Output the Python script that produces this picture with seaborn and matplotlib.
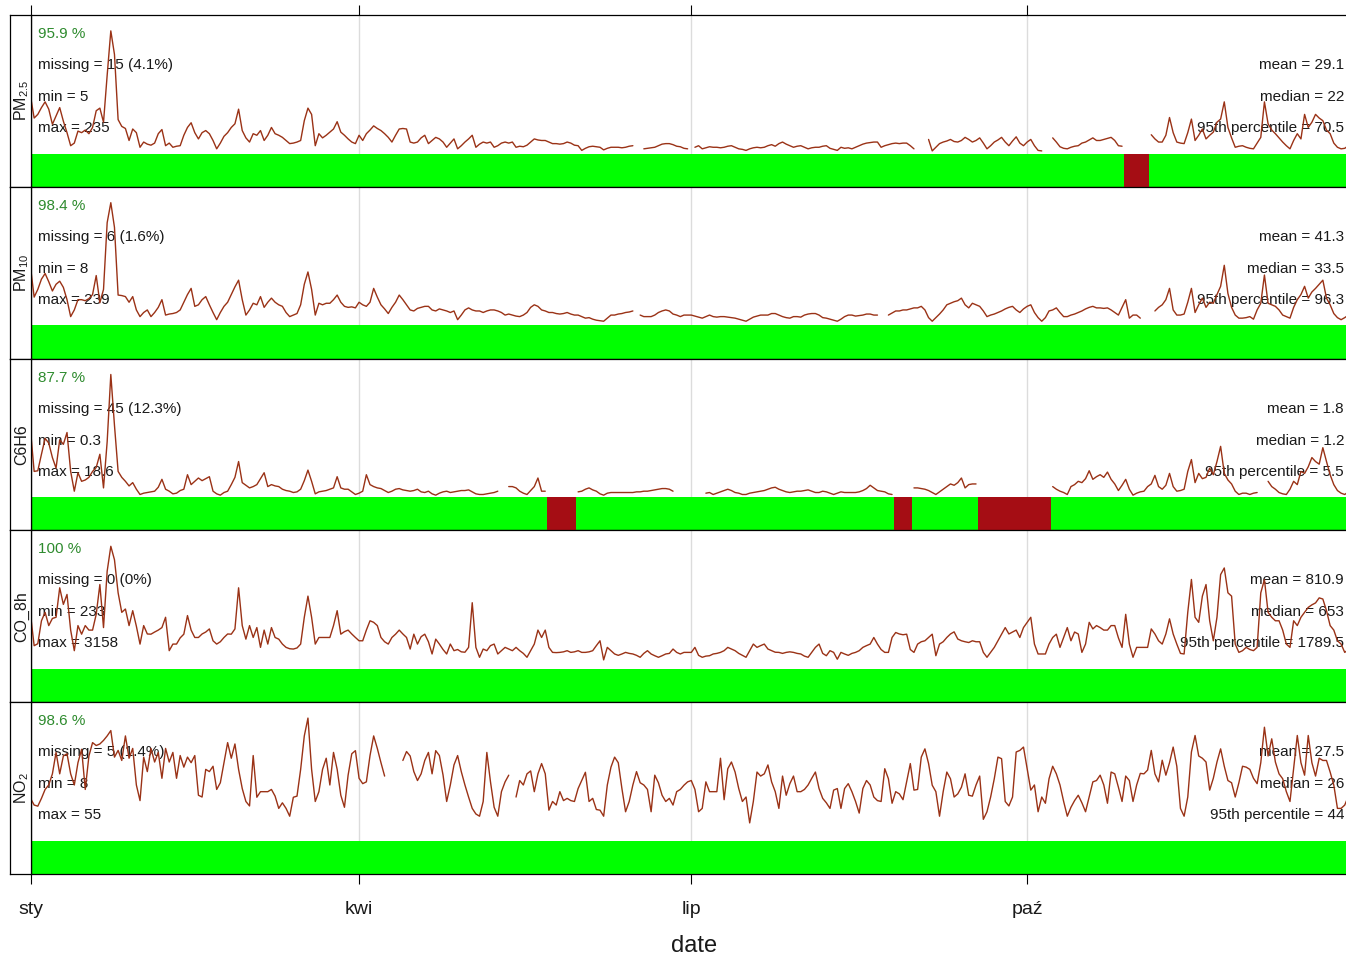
import numpy as np
import pandas as pd
import matplotlib
matplotlib.use("Agg")
import matplotlib.pyplot as plt
import matplotlib.dates as mdates
import seaborn as sns

nan = np.nan

# ---------------- data (daily means) ----------------
start_date = "2019-01-01"
end_date = "2020-01-01"

pm25 = [
    110, 68, 75, 88, 99, 85, 56, 72, 88, 62,
    40, 15, 20, 43, 40, 45, 38, 50, 82, 87,
    60, 150, 235, 190, 65, 52, 48, 25, 47, 40,
    12, 22, 18, 16, 20, 38, 46, 15, 20, 12,
    14, 15, 35, 50, 59, 40, 28, 40, 44, 38,
    25, 9, 20, 33, 40, 50, 57, 85, 44, 30,
    22, 38, 35, 44, 25, 35, 50, 38, 35, 31,
    25, 19, 20, 22, 25, 63, 87, 75, 15, 38,
    30, 35, 41, 47, 61, 41, 35, 28, 22, 19,
    35, 25, 38, 45, 53, 48, 44, 38, 31, 22,
    35, 47, 48, 47, 22, 20, 22, 30, 35, 19,
    25, 31, 28, 22, 12, 20, 28, 9, 15, 22,
    28, 35, 12, 18, 22, 20, 22, 12, 15, 20,
    22, 20, 22, 12, 14, 13, 16, 22, 28, 26,
    25, 25, 22, 19, 19, 18, 19, 22, 20, 16,
    15, 6, 10, 13, 14, 13, 12, 7, 10, 12,
    12, 12, 11, 12, 14, 15, nan, nan, 9, 10,
    11, 12, 15, 18, 19, 19, 17, 14, 13, 10,
    9, nan, 12, 15, 9, 11, 13, 12, 12, 11,
    12, 14, 15, 12, 9, 8, 6, 9, 11, 12,
    11, 12, 15, 17, 14, 19, 22, 18, 15, 12,
    14, 15, 12, 9, 11, 12, 12, 14, 15, 10,
    8, 6, 12, 10, 11, 9, 12, 15, 18, 20,
    21, 22, 22, 12, 15, 17, 19, 20, 19, 20,
    20, 15, 9, nan, nan, nan, 27, 5, 12, 19,
    22, 24, 27, 23, 22, 25, 31, 27, 22, 25,
    30, 20, 9, 15, 22, 26, 31, 22, 15, 24,
    32, 20, 15, 22, 27, 15, 6, 5, nan, nan,
    30, 22, 13, 10, 9, 12, 14, 15, 20, 22,
    26, 30, 25, 25, 27, 29, 31, 25, 15, 14,
    nan, nan, nan, nan, nan, nan, nan, 36, 28, 22,
    22, 35, 69, 40, 22, 20, 19, 40, 66, 25,
    35, 47, 28, 35, 41, 60, 66, 99, 50, 30,
    12, 14, 15, 12, 10, 9, 20, 31, 99, 57,
    45, 38, 30, 22, 15, 9, 25, 38, 28, 75,
    50, 60, 75, 68, 63, 45, 38, 20, 12, 9,
    10, 15, 20, 25, 22,
]

pm10 = [
    114, 55, 70, 90, 101, 85, 67, 80, 86, 74,
    50, 17, 30, 50, 50, 48, 52, 60, 97, 44,
    70, 200, 239, 191, 59, 58, 56, 45, 56, 30,
    17, 25, 30, 17, 25, 35, 50, 20, 22, 23,
    25, 30, 45, 60, 72, 37, 40, 50, 56, 40,
    25, 11, 25, 37, 45, 60, 75, 88, 50, 20,
    30, 43, 40, 56, 35, 45, 53, 45, 40, 37,
    25, 17, 20, 23, 40, 80, 104, 70, 20, 43,
    40, 43, 43, 50, 59, 45, 37, 35, 36, 34,
    45, 40, 37, 45, 72, 55, 40, 32, 23, 35,
    45, 59, 50, 40, 30, 28, 33, 35, 37, 37,
    30, 28, 32, 30, 28, 25, 28, 11, 20, 30,
    34, 30, 28, 28, 25, 28, 30, 30, 28, 25,
    20, 22, 20, 18, 17, 20, 25, 35, 40, 37,
    30, 28, 25, 25, 23, 22, 23, 25, 22, 20,
    20, 17, 14, 15, 12, 10, 9, 8, 14, 20,
    20, 22, 23, 25, 26, 28, nan, 20, 17, 17,
    17, 20, 25, 28, 30, 28, 22, 20, 17, 20,
    20, 20, 18, 16, 14, 17, 20, 17, 16, 17,
    17, 16, 15, 14, 12, 10, 8, 12, 16, 18,
    20, 20, 20, 23, 23, 20, 17, 15, 14, 17,
    17, 16, 20, 22, 23, 23, 20, 15, 14, 12,
    10, 8, 12, 17, 20, 20, 18, 19, 20, 22,
    22, 20, 20, nan, nan, 20, 24, 28, 28, 30,
    30, 32, 34, 34, 37, 30, 15, 8, 15, 22,
    30, 40, 43, 46, 48, 53, 40, 34, 43, 40,
    37, 28, 17, 20, 22, 25, 28, 32, 35, 37,
    30, 25, 32, 37, 40, 25, 15, 8, 15, 28,
    30, 34, 25, 17, 17, 20, 22, 25, 28, 32,
    35, 37, 34, 34, 33, 34, 30, 25, 20, 35,
    50, 14, 20, 20, 14, nan, nan, nan, 28, 35,
    40, 50, 72, 30, 20, 20, 22, 45, 72, 25,
    40, 53, 35, 45, 43, 60, 76, 117, 62, 35,
    20, 14, 14, 15, 17, 12, 30, 43, 98, 43,
    40, 37, 30, 20, 17, 14, 35, 50, 60, 76,
    53, 65, 72, 80, 88, 53, 40, 23, 15, 11,
    15, 20, 25, 30, 28,
]

c6h6 = [
    10.2, 3.9, 4.0, 6.5, 8.9, 8.2, 6.0, 4.4, 8.7, 8.0,
    9.8, 3.9, 0.9, 3.7, 2.4, 2.6, 3.0, 3.9, 4.5, 6.5,
    1.4, 8.4, 18.6, 10.9, 3.9, 3.0, 2.4, 1.7, 2.2, 1.2,
    0.4, 0.6, 0.7, 0.8, 0.9, 1.5, 2.7, 1.2, 0.9, 0.5,
    0.6, 1.0, 1.2, 3.4, 1.9, 2.4, 2.9, 2.5, 2.8, 3.1,
    0.9, 0.5, 0.3, 0.7, 0.9, 1.9, 3.0, 5.4, 2.2, 1.8,
    1.4, 1.6, 1.9, 2.8, 3.7, 1.6, 1.9, 1.7, 1.6, 1.2,
    1.0, 0.9, 0.7, 0.8, 1.2, 2.5, 4.1, 2.4, 0.5, 0.8,
    0.9, 1.0, 1.2, 1.4, 3.1, 1.4, 1.2, 1.2, 0.8, 0.4,
    0.6, 0.9, 3.4, 1.9, 1.6, 1.4, 1.3, 1.0, 0.7, 0.9,
    1.2, 1.3, 1.1, 1.0, 0.9, 1.0, 1.2, 0.8, 0.7, 0.9,
    0.5, 0.3, 0.6, 0.8, 0.9, 0.7, 0.8, 0.9, 1.0, 1.0,
    1.1, 0.8, 0.5, 0.4, 0.4, 0.5, 0.6, 0.7, 0.9, nan,
    nan, 1.6, 1.6, 1.4, 0.9, 0.6, 0.4, 1.0, 1.6, 2.9,
    0.9, 0.9, nan, nan, nan, nan, nan, nan, nan, nan,
    0.8, 0.9, 1.2, 1.4, 1.1, 0.9, 0.5, 0.3, 0.6, 0.7,
    0.7, 0.7, 0.7, 0.7, 0.7, 0.7, 0.8, 0.8, 0.9, 0.9,
    1.0, 1.1, 1.2, 1.3, 1.3, 1.2, 0.9, nan, nan, nan,
    nan, nan, nan, nan, nan, 0.6, 0.7, 0.4, 0.6, 0.8,
    1.0, 1.2, 1.0, 0.7, 0.6, 0.4, 0.4, 0.6, 0.7, 0.8,
    0.9, 1.0, 1.2, 1.4, 1.5, 1.2, 1.0, 0.8, 0.7, 0.8,
    0.9, 0.9, 1.0, 1.1, 0.9, 0.7, 0.7, 0.9, 0.8, 0.6,
    0.4, 0.6, 0.8, 0.7, 0.7, 0.7, 0.7, 0.8, 1.0, 1.3,
    1.8, 1.4, 1.0, 0.9, 0.8, 0.5, 0.4, nan, nan, nan,
    nan, nan, 1.4, 1.4, 1.3, 1.2, 1.0, 0.7, 0.4, 0.8,
    1.2, 1.6, 2.0, 1.8, 2.2, 2.9, 1.4, 1.9, 2.0, 2.0,
    nan, nan, nan, nan, nan, nan, nan, nan, nan, nan,
    nan, nan, nan, nan, nan, nan, nan, nan, nan, nan,
    1.6, 1.2, 0.9, 0.7, 0.4, 1.6, 1.9, 2.4, 2.2, 2.8,
    4.0, 2.7, 3.1, 3.4, 3.0, 3.8, 2.7, 2.0, 1.0, 1.8,
    2.7, 1.2, 0.3, 0.6, 0.8, 0.9, 1.6, 2.0, 3.3, 1.6,
    1.2, 1.8, 3.6, 1.6, 0.9, 1.0, 1.2, 3.9, 5.7, 2.2,
    3.6, 2.8, 3.0, 4.4, 3.4, 5.4, 7.7, 3.6, 2.6, 2.0,
    0.9, 0.4, 0.6, 0.6, 0.4, 0.6, 0.7, nan, nan, 2.4,
    1.6, 1.2, 0.7, 0.5, 0.4, 1.2, 2.4, 1.9, 3.9, 3.6,
    4.6, 6.0, 5.4, 5.0, 7.5, 5.4, 3.4, 1.9, 1.0, 0.6,
    0.4, 0.8, 1.2, 1.6, 1.4,
]

co_8h = [
    1406, 598, 650, 1240, 1457, 1116, 1300, 1330, 2089, 1662,
    1918, 1000, 470, 1116, 895, 1116, 1000, 1000, 1406, 2173,
    1065, 2516, 3158, 2812, 1960, 1457, 1543, 1116, 1500, 1100,
    639, 1116, 900, 895, 950, 1000, 1065, 1330, 470, 640,
    640, 800, 895, 1374, 1000, 810, 810, 900, 950, 1030,
    725, 640, 700, 810, 900, 895, 1030, 2089, 1116, 767,
    1116, 810, 1065, 555, 1000, 640, 1065, 810, 767, 640,
    555, 520, 512, 540, 640, 1330, 1875, 1330, 640, 810,
    810, 810, 810, 1116, 1500, 895, 960, 1000, 900, 810,
    725, 725, 1000, 1240, 1200, 1116, 810, 700, 640, 810,
    895, 1000, 900, 810, 512, 895, 640, 830, 895, 700,
    385, 767, 640, 500, 385, 640, 470, 500, 440, 430,
    555, 1705, 555, 300, 512, 470, 600, 640, 385, 470,
    555, 512, 470, 555, 470, 400, 300, 470, 640, 1000,
    810, 1000, 555, 426, 420, 426, 440, 470, 426, 440,
    470, 426, 426, 440, 470, 600, 725, 233, 555, 470,
    385, 350, 385, 426, 400, 385, 350, 300, 400, 470,
    385, 340, 300, 340, 385, 400, 512, 426, 385, 426,
    426, 426, 555, 350, 300, 330, 340, 385, 400, 426,
    470, 555, 512, 470, 400, 350, 300, 470, 640, 555,
    600, 640, 512, 470, 430, 426, 400, 426, 440, 426,
    400, 385, 330, 300, 426, 555, 640, 400, 340, 470,
    426, 250, 426, 385, 350, 400, 426, 470, 555, 600,
    640, 810, 640, 500, 426, 426, 810, 938, 900, 880,
    895, 500, 426, 640, 700, 725, 810, 895, 340, 640,
    700, 810, 900, 955, 770, 725, 700, 680, 725, 700,
    700, 426, 300, 426, 555, 725, 900, 1065, 900, 950,
    1000, 810, 1065, 1200, 1330, 640, 385, 385, 385, 640,
    810, 895, 555, 810, 1065, 725, 950, 900, 426, 640,
    1200, 1030, 1116, 1065, 1000, 1000, 1116, 1116, 800, 555,
    1406, 640, 300, 555, 555, 555, 555, 1030, 900, 725,
    640, 900, 1290, 900, 640, 400, 385, 1457, 2304, 1330,
    1200, 1875, 2173, 1240, 725, 1330, 2430, 2600, 1960, 1875,
    640, 426, 470, 555, 500, 470, 555, 1960, 2300, 1457,
    1330, 1240, 1240, 1000, 640, 555, 1240, 1116, 1330, 1457,
    1585, 1650, 1700, 1830, 1800, 1500, 1116, 1000, 725, 640,
    426, 500, 600, 700, 650,
]

no2 = [
    19, 16, 15.5, 19, 23, 25, 30, 39.6, 30, 38,
    39, 30, 25, 35, 41, 23, 38, 44, 42.7, 43.4,
    45, 47, 49.4, 37.5, 40.5, 36, 47, 37, 41.4, 25,
    18, 37.5, 31, 41.4, 35.3, 39.6, 28, 41.4, 35.3, 39.6,
    28, 38.2, 33, 37.5, 35, 38.2, 20.4, 19.6, 32, 31,
    33.4, 23, 26, 35, 44, 37, 43.4, 32, 23.4, 17.6,
    15.6, 38.2, 19.5, 22, 22, 22, 23, 20, 14.5, 17,
    14.5, 11, 19.5, 20, 32, 47, 55, 32, 17.6, 22,
    32, 37, 25, 39.6, 32, 20.4, 15, 29.4, 39, 40.4,
    28, 25.6, 26.4, 38.2, 47, 41.4, 35, 29, nan, nan,
    nan, nan, 36, 40, 38, 31, 27, 30, 36, 39.6,
    30, 40.4, 38.2, 29.5, 17.6, 25, 34, 38.2, 31, 25,
    19.6, 14.5, 12, 11, 17.6, 39.6, 26.4, 15, 11, 22,
    26.4, 29.4, nan, 19.6, 27, 25, 30, 31.3, 22, 30,
    34.6, 30, 13.7, 17.6, 16, 22, 18, 19, 18, 17.6,
    23.4, 27, 30.7, 17.6, 19, 14, 13.7, 11, 25, 33,
    37.5, 35, 23.4, 13, 17.6, 25, 31, 26, 25, 23,
    13, 29.4, 26, 20.4, 17.6, 19, 16, 22, 23, 24.9,
    26.4, 27, 23, 13, 14.5, 26.4, 22, 22, 22, 37,
    18.4, 32.3, 35.3, 30.8, 23.4, 17.6, 19.6, 8, 17.6, 30.8,
    29, 30, 34, 26.4, 22, 14.5, 29, 20.4, 25.6, 29,
    22, 22, 23, 25, 28, 30.8, 23.4, 19, 17, 14.5,
    22.7, 23.4, 14.5, 23.4, 25.6, 22, 17.6, 12.4, 23.4, 27,
    25, 19.6, 18, 17.6, 32.3, 27.8, 16.8, 22, 21, 18.4,
    26.4, 34.6, 22.7, 23, 37.5, 41.2, 34.6, 24.9, 22, 11,
    22, 30.8, 27.8, 19.6, 21, 24, 30, 20.4, 20, 25,
    29, 9.6, 13, 19.6, 27.8, 37.5, 36.8, 17.6, 15.6, 19.6,
    39.8, 40.5, 42, 32.3, 22.7, 25, 13, 19.6, 16.8, 27.8,
    33.4, 30, 25, 17.6, 11, 15, 18, 20.4, 17, 13,
    19.6, 26.4, 27, 29.4, 25, 16.8, 30.8, 30, 24, 17.6,
    29, 27, 17.6, 25, 30.2, 30, 31.7, 40.5, 30, 26.4,
    36.1, 29.4, 35, 42, 33.4, 14.5, 11, 19.6, 39.8, 47.2,
    38, 37, 35.3, 22.7, 28, 35.3, 41.2, 33.4, 27, 26,
    19.6, 26, 33.4, 33, 32, 28, 25.6, 35, 50.9, 38,
    45.7, 35.3, 30, 27.8, 22, 17.6, 32.3, 47.2, 35, 29.4,
    47.2, 35, 29, 37, 36, 36, 30.8, 25, 14.5, 14.5,
    16, 20, 24, 26, 25,
]

variables = ["PM2.5", "PM10", "C6H6", "CO_8h", "NO2"]
strip_labels = ["PM$_{2.5}$", "PM$_{10}$", "C6H6", "CO_8h", "NO$_2$"]
capture_text = ["95.9 %", "98.4 %", "87.7 %", "100 %", "98.6 %"]
missing_text = ["missing = 15 (4.1%)", "missing = 6 (1.6%)", "missing = 45 (12.3%)",
                "missing = 0 (0%)", "missing = 5 (1.4%)"]
min_text = ["min = 5", "min = 8", "min = 0.3", "min = 233", "min = 8"]
max_text = ["max = 235", "max = 239", "max = 18.6", "max = 3158", "max = 55"]
mean_text = ["mean = 29.1", "mean = 41.3", "mean = 1.8", "mean = 810.9", "mean = 27.5"]
median_text = ["median = 22", "median = 33.5", "median = 1.2", "median = 653", "median = 26"]
p95_text = ["95th percentile = 70.5", "95th percentile = 96.3", "95th percentile = 5.5",
            "95th percentile = 1789.5", "95th percentile = 44"]
# missing runs shown in red in the data-capture bar (first day index, last day index)
red_blocks = {"PM2.5": [(300, 306)], "C6H6": [(142, 149), (237, 241), (260, 279)]}
month_ticks = ["2019-01-01", "2019-04-01", "2019-07-01", "2019-10-01"]
month_labels = ["sty", "kwi", "lip", "paź"]

series = [pm25, pm10, c6h6, co_8h, no2]
for s in series:
    assert len(s) == 365, len(s)

# ---------------- styling ----------------
sns.set_theme(style="white")
plt.rcParams["font.family"] = ["Liberation Sans", "DejaVu Sans"]
plt.rcParams["mathtext.fontset"] = "custom"
plt.rcParams["mathtext.rm"] = "Liberation Sans"
plt.rcParams["mathtext.it"] = "Liberation Sans:italic"
plt.rcParams["mathtext.bf"] = "Liberation Sans:bold"

LINE = "#9a3216"
GREEN = "#00ff00"
RED = "#a50d14"
PCT = "#2e8b2e"
GRID = "#dcdcdc"
TXT = "#1a1a1a"

W, H = 1346, 956
fig = plt.figure(figsize=(W / 100, H / 100), dpi=100)

left_px, right_px = 30.5, 1363.0
top_px, bottom_px = 15.0, 874.0
strip_left = 10.0
ph = (bottom_px - top_px) / 5.0
aw = right_px - left_px

dates = pd.date_range(start_date, periods=365, freq="D")
tick_nums = mdates.date2num(pd.to_datetime(month_ticks))
xlim = (mdates.date2num(pd.Timestamp(start_date)), mdates.date2num(pd.Timestamp(end_date)))

row_offsets = [19, 50, 82, 113]
left_fx = (37.5 - left_px) / aw
right_fx = (1344.0 - left_px) / aw

for i, (var, vals) in enumerate(zip(variables, series)):
    ptop = top_px + i * ph
    rect_y = 1 - (ptop + ph) / H
    ax = fig.add_axes([left_px / W, rect_y, aw / W, ph / H])
    sax = fig.add_axes([strip_left / W, rect_y, (left_px - strip_left) / W, ph / H])

    v = np.array(vals, dtype=float)
    M = np.nanmax(v)
    ybot = -M * 33.5 / 123.5
    ytop = M * (1 + 16.0 / 123.5)

    seg = np.cumsum(np.isnan(v))
    df = pd.DataFrame({"date": dates, "value": v, "seg": seg}).dropna()

    # grid
    for t in tick_nums[1:]:
        ax.axvline(t, color=GRID, lw=1.0, zorder=0)

    sns.lineplot(data=df, x="date", y="value", units="seg", estimator=None,
                 color=LINE, linewidth=1.0, ax=ax, zorder=5, legend=False)

    # data capture bar
    ax.axhspan(ybot, 0, color=GREEN, lw=0, zorder=2)
    for (s0, s1) in red_blocks.get(var, []):
        xa = mdates.date2num(dates[s0]) - 0.5
        xb = mdates.date2num(dates[s1]) + 0.5
        ax.fill_between([xa, xb], ybot, 0, color=RED, lw=0, zorder=3)

    ax.set_xlim(*xlim)
    ax.set_ylim(ybot, ytop)
    ax.set_yticks([])
    ax.set_xlabel("")
    ax.set_ylabel("")
    ax.set_xticks(tick_nums)
    if i == 0:
        ax.tick_params(axis="x", top=True, bottom=False, labeltop=False, labelbottom=False,
                       direction="out", length=7.2, width=0.8, color="black")
    elif i == 4:
        ax.set_xticklabels(month_labels)
        ax.tick_params(axis="x", top=False, bottom=True, labelbottom=True,
                       direction="out", length=7.2, width=0.8, color="black",
                       labelsize=14, pad=12, labelcolor=TXT)
    else:
        ax.tick_params(axis="x", top=False, bottom=False, labelbottom=False, labeltop=False)
    for sp in ax.spines.values():
        sp.set_color("black")
        sp.set_linewidth(0.9)
    ax.set_facecolor("white")

    # annotations
    fys = [1 - o / ph for o in row_offsets]
    ax.text(left_fx, fys[0], capture_text[i], transform=ax.transAxes, ha="left", va="center",
            fontsize=11, color=PCT, zorder=4)
    ax.text(left_fx, fys[1], missing_text[i], transform=ax.transAxes, ha="left", va="center",
            fontsize=11, color=TXT, zorder=4)
    ax.text(left_fx, fys[2], min_text[i], transform=ax.transAxes, ha="left", va="center",
            fontsize=11, color=TXT, zorder=4)
    ax.text(left_fx, fys[3], max_text[i], transform=ax.transAxes, ha="left", va="center",
            fontsize=11, color=TXT, zorder=4)
    ax.text(right_fx, fys[1], mean_text[i], transform=ax.transAxes, ha="right", va="center",
            fontsize=11, color=TXT, zorder=4)
    ax.text(right_fx, fys[2], median_text[i], transform=ax.transAxes, ha="right", va="center",
            fontsize=11, color=TXT, zorder=4)
    ax.text(right_fx, fys[3], p95_text[i], transform=ax.transAxes, ha="right", va="center",
            fontsize=11, color=TXT, zorder=4)

    # strip with variable name
    sax.set_xticks([])
    sax.set_yticks([])
    sax.set_facecolor("white")
    for sp in sax.spines.values():
        sp.set_color("black")
        sp.set_linewidth(0.9)
    sax.text(0.55, 0.5, strip_labels[i], rotation=90, ha="center", va="center",
             fontsize=11.5, transform=sax.transAxes, color=TXT)

fig.text(694 / W, 1 - 946 / H, "date", ha="center", va="center", fontsize=17, color=TXT)

fig.savefig("out.png", dpi=100)
